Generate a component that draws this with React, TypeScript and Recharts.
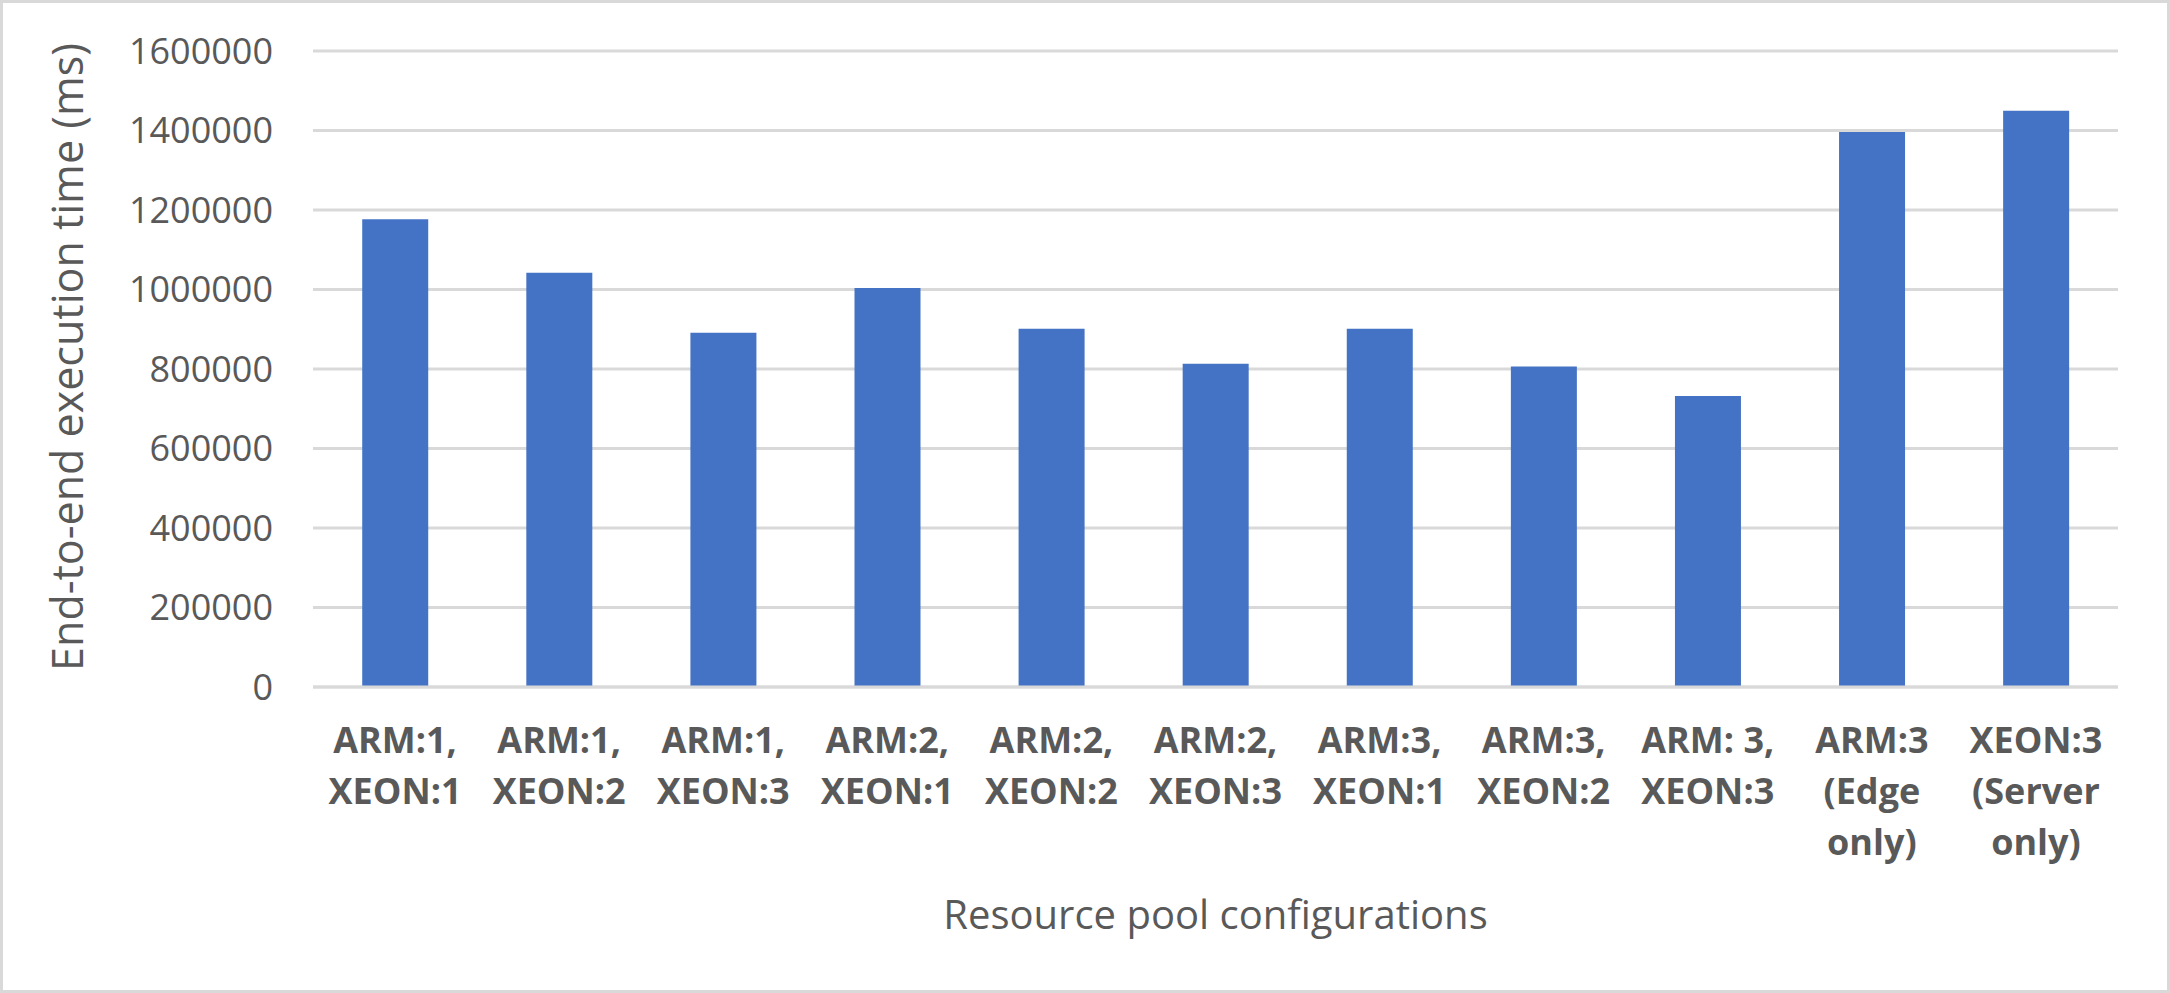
// Bar chart: end-to-end execution time per resource pool configuration

import { BarChart, Bar, XAxis, YAxis, CartesianGrid } from 'recharts'

const categories = [
  'ARM:1,\nXEON:1',
  'ARM:1,\nXEON:2',
  'ARM:1,\nXEON:3',
  'ARM:2,\nXEON:1',
  'ARM:2,\nXEON:2',
  'ARM:2,\nXEON:3',
  'ARM:3,\nXEON:1',
  'ARM:3,\nXEON:2',
  'ARM: 3,\nXEON:3',
  'ARM:3\n(Edge\nonly)',
  'XEON:3\n(Server\nonly)',
]
const execTimes = [1177000, 1042000, 891000, 1004000, 901000, 813000, 901000, 806000, 732000, 1396000, 1450000]
const yTicks = [0, 200000, 400000, 600000, 800000, 1000000, 1200000, 1400000, 1600000]

const yTitle = 'End-to-end execution time (ms)'
const xTitle = 'Resource pool configurations'

const TEXT = '#595959'
const GRID = '#d9d9d9'
const FONT = '"Open Sans", sans-serif'

const data = categories.map((c, i) => ({ name: c, value: execTimes[i] }))

function XTick(props: any) {
  const { x, y, payload } = props
  const lines = String(payload.value).split('\n')
  return (
    <text x={x} y={y + 66} textAnchor="middle" fill={TEXT} fontFamily={FONT} fontSize={36} fontWeight={700}>
      {lines.map((l, i) => (
        <tspan key={i} x={x} dy={i === 0 ? 0 : 51}>{l}</tspan>
      ))}
    </text>
  )
}

export default function App() {
  return (
    <div style={{ position: 'relative', width: 2170, height: 993, background: '#fff' }}>
      <style>{'body{margin:0}'}</style>
      <BarChart
        width={2170}
        height={993}
        data={data}
        margin={{ top: 51, right: 52, bottom: 0, left: 0 }}
        barCategoryGap="30%"
      >
        <CartesianGrid vertical={false} stroke={GRID} strokeWidth={3} />
        <XAxis
          dataKey="name"
          interval={0}
          height={306}
          tickLine={false}
          tickSize={0}
          tickMargin={0}
          axisLine={{ stroke: GRID, strokeWidth: 3 }}
          tick={<XTick />}
          label={{
            content: ({ viewBox }: any) => (
              <text
                x={viewBox.x + viewBox.width / 2}
                y={viewBox.y + 226}
                textAnchor="middle"
                dominantBaseline="central"
                fill={TEXT}
                fontFamily={FONT}
                fontSize={40}
              >
                {xTitle}
              </text>
            ),
          }}
        />
        <YAxis
          width={313}
          domain={[0, 1600000]}
          ticks={yTicks}
          interval={0}
          axisLine={false}
          tickLine={false}
          tickSize={0}
          tickMargin={40}
          tick={{ fill: TEXT, fontFamily: FONT, fontSize: 36 }}
          label={{
            content: ({ viewBox }: any) => {
              const cx = viewBox.x + 66
              const cy = viewBox.y + viewBox.height / 2 - 12
              return (
                <text
                  x={cx}
                  y={cy}
                  transform={`rotate(-90 ${cx} ${cy})`}
                  textAnchor="middle"
                  dominantBaseline="central"
                  fill={TEXT}
                  fontFamily={FONT}
                  fontSize={43}
                >
                  {yTitle}
                </text>
              )
            },
          }}
        />
        <Bar dataKey="value" fill="#4472C4" isAnimationActive={false} />
      </BarChart>
      <div
        style={{
          position: 'absolute',
          inset: 0,
          border: `3px solid ${GRID}`,
          pointerEvents: 'none',
        }}
      />
    </div>
  )
}
